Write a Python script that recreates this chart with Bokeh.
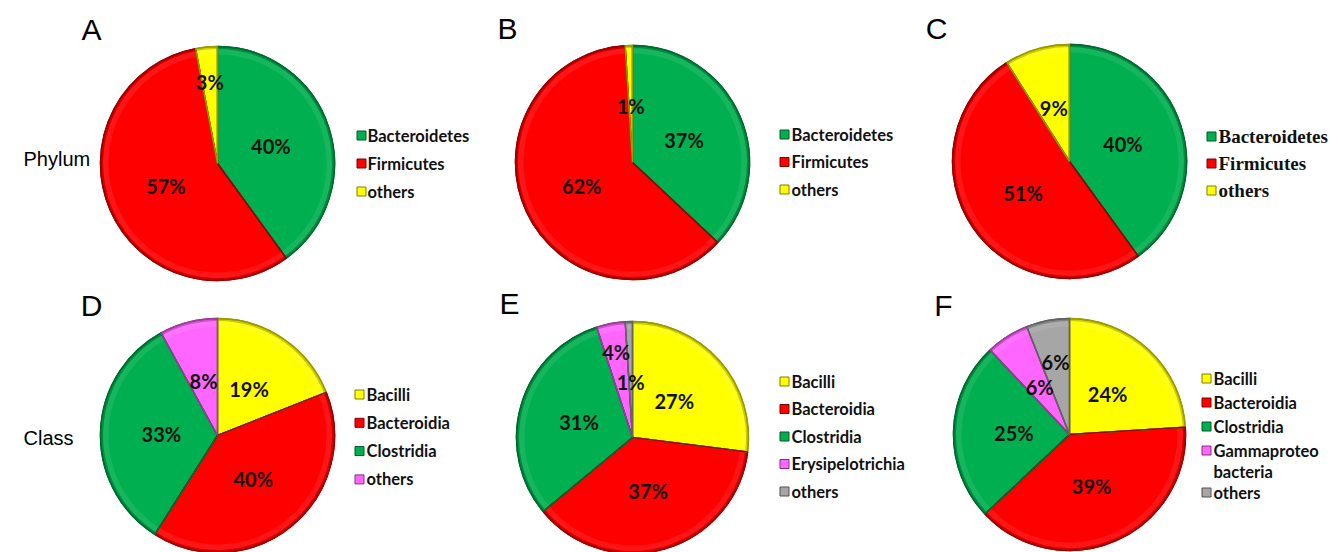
import numpy as np
from bokeh.plotting import figure
from bokeh.models import Range1d, ColumnDataSource
from bokeh.core.properties import value
from bokeh.embed import file_html
from bokeh.resources import INLINE

W, H = 1330, 552

# ---------------- data ----------------
phylum_names = ["Bacteroidetes", "Firmicutes", "others"]
phylum_A = [40, 57, 3]
phylum_B = [37, 62, 1]
phylum_C = [40, 51, 9]

class_D_names = ["Bacilli", "Bacteroidia", "Clostridia", "others"]
class_D = [19, 40, 33, 8]
class_E_names = ["Bacilli", "Bacteroidia", "Clostridia", "Erysipelotrichia", "others"]
class_E = [27, 37, 31, 4, 1]
class_F_names = ["Bacilli", "Bacteroidia", "Clostridia", "Gammaproteo\nbacteria", "others"]
class_F = [24, 39, 25, 6, 6]

panel_letters = ["A", "B", "C", "D", "E", "F"]
row_labels = ["Phylum", "Class"]

# ---------------- styles ----------------
GREEN, RED, YELLOW, PINK, GREY = "#00B050", "#FF0000", "#FFFF00", "#FF66FF", "#A6A6A6"

def darker(hexc, f=0.6):
    h = hexc.lstrip("#")
    r, g, b = (int(h[i:i + 2], 16) for i in (0, 2, 4))
    return "#%02x%02x%02x" % (int(r * f), int(g * f), int(b * f))

def lighter(hexc, f=0.45):
    h = hexc.lstrip("#")
    r, g, b = (int(h[i:i + 2], 16) for i in (0, 2, 4))
    return "#%02x%02x%02x" % (int(r + (255 - r) * f), int(g + (255 - g) * f), int(b + (255 - b) * f))

SANS = "Lato"
SERIF = "Liberation Serif"

panels = [
    dict(vals=phylum_A, names=phylum_names, colors=[GREEN, RED, YELLOW],
         c=(217, 163), r=117, leg=(361, 367, 135, 28), font=SANS, fs="16.5px",
         letter=(91, 29), lab_over={2: 0.70}),
    dict(vals=phylum_B, names=phylum_names, colors=[GREEN, RED, YELLOW],
         c=(632, 162), r=117, leg=(784, 791, 134, 27.5), font=SANS, fs="16.5px",
         letter=(507, 28), lab_over={}),
    dict(vals=phylum_C, names=phylum_names, colors=[GREEN, RED, YELLOW],
         c=(1069, 161), r=117, leg=(1211, 1218, 136, 27), font=SERIF, fs="19px",
         letter=(936, 28), lab_over={}),
    dict(vals=class_D, names=class_D_names, colors=[YELLOW, RED, GREEN, PINK],
         c=(217, 435), r=117, leg=(359, 366, 394, 28.3), font=SANS, fs="16.5px",
         letter=(91, 305), lab_over={}),
    dict(vals=class_E, names=class_E_names, colors=[YELLOW, RED, GREEN, PINK, GREY],
         c=(632, 437), r=116, leg=(784, 791, 381, 27.5), font=SANS, fs="16.5px",
         letter=(509, 303), lab_over={3: 0.75}),
    dict(vals=class_F, names=class_F_names, colors=[YELLOW, RED, GREEN, PINK, GREY],
         c=(1069, 434), r=116, leg=(1206, 1213, 378, 24), font=SANS, fs="16.5px",
         letter=(943, 305), lab_over={4: 0.64}),
]

p = figure(width=W, height=H, x_range=Range1d(0, W), y_range=Range1d(0, H),
           x_axis_type=None, y_axis_type=None, toolbar_location=None,
           output_backend="svg", min_border=0)
p.grid.visible = False
p.outline_line_color = None
p.background_fill_color = "white"
p.border_fill_color = "white"

def Y(ys):
    return H - ys

for pn, letter in zip(panels, panel_letters):
    vals = pn["vals"]
    cx, cy = pn["c"][0], Y(pn["c"][1])
    r = pn["r"]
    fr = np.cumsum([0] + list(vals)) / float(sum(vals))
    starts = np.pi / 2 - 2 * np.pi * fr[1:]
    ends = np.pi / 2 - 2 * np.pi * fr[:-1]
    cols = pn["colors"]
    darks = [darker(c) for c in cols]
    lights = [lighter(c) for c in cols]
    src = ColumnDataSource(dict(x=[cx] * len(vals), y=[cy] * len(vals), s=starts, e=ends,
                                c=cols, d=darks, l=lights))
    # base wedges
    p.wedge(x="x", y="y", radius=r, start_angle="s", end_angle="e", direction="anticlock",
            fill_color="c", line_color="d", line_width=1.4, source=src)
    # subtle bevel highlight band
    p.annular_wedge(x="x", y="y", inner_radius=r - 8, outer_radius=r - 2.5, start_angle="s", end_angle="e",
                    direction="anticlock", fill_color="l", fill_alpha=0.18, line_color=None, source=src)
    # darker rim
    p.annular_wedge(x="x", y="y", inner_radius=r - 2.5, outer_radius=r, start_angle="s", end_angle="e",
                    direction="anticlock", fill_color="d", fill_alpha=0.5, line_color=None, source=src)
    # re-stroke slice boundaries
    p.wedge(x="x", y="y", radius=r, start_angle="s", end_angle="e", direction="anticlock",
            fill_color=None, line_color="d", line_width=1.4, source=src)

    # data labels
    lx, ly, lt = [], [], []
    for i, v in enumerate(vals):
        mid = (fr[i] + fr[i + 1]) / 2
        th = np.pi / 2 - 2 * np.pi * mid
        d = pn["lab_over"].get(i, 0.48) * r
        lx.append(cx + d * np.cos(th))
        ly.append(cy + d * np.sin(th))
        lt.append("%d%%" % v)
    p.text(x=lx, y=ly, text=lt, text_font=value(SANS), text_font_size="20px",
           text_font_style="bold", text_align="center", text_baseline="middle", text_color="#111111")

    # legend
    mx, tx, y0, step = pn["leg"]
    yy = y0
    for name, col in zip(pn["names"], cols):
        lines = name.split("\n")
        p.scatter(x=[mx], y=[Y(yy)], marker="square", size=9, fill_color=col,
                  line_color=darker(col, 0.5), line_width=1)
        for k, ln in enumerate(lines):
            p.text(x=[tx], y=[Y(yy + k * 21)], text=[ln], text_font=value(pn["font"]),
                   text_font_size=pn["fs"], text_font_style="bold", text_align="left",
                   text_baseline="middle", text_color="#111111")
        yy += step + 21 * (len(lines) - 1) - (3 if len(lines) > 1 else 0)

    # panel letter
    p.text(x=[pn["letter"][0]], y=[Y(pn["letter"][1])], text=[letter],
           text_font=value("Liberation Sans"), text_font_size="30px", text_align="center",
           text_baseline="middle", text_color="#000000")

# row labels
for lab, ys in zip(row_labels, [158, 437]):
    p.text(x=[23], y=[Y(ys)], text=[lab], text_font=value("Liberation Sans"), text_font_size="20px",
           text_align="left", text_baseline="middle", text_color="#000000")

open("out.html", "w").write(file_html(p, INLINE))
